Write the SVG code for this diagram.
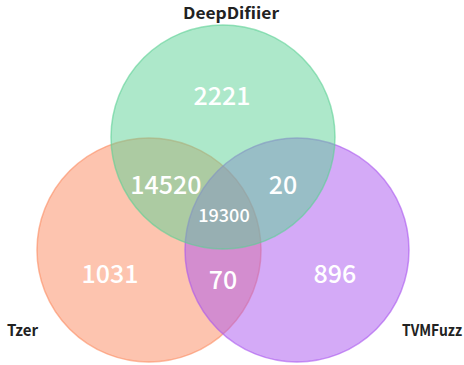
<svg xmlns="http://www.w3.org/2000/svg" width="464" height="365" viewBox="0 0 464 365">
<style>
.c{stroke-width:1.5}
.lbl{font-family:"Noto Sans CJK SC","Noto Sans",sans-serif;font-size:16px;font-weight:600;fill:#222}
.num{font-family:"Noto Sans CJK SC","Noto Sans",sans-serif;font-size:25px;font-weight:500;fill:#fff;text-anchor:middle}
.sm{font-size:18px}
</style>
<rect width="464" height="365" fill="#fff"/>
<g id="tzer">
<circle class="c" cx="149" cy="250" r="112" fill="#fb8a5f" fill-opacity="0.5" stroke="#fb8a5f" stroke-opacity="0.6"/>
</g>
<g id="tvmfuzz">
<circle class="c" cx="297" cy="250" r="112" fill="#a955ef" fill-opacity="0.5" stroke="#a955ef" stroke-opacity="0.6"/>
</g>
<g id="deepdifiier">
<circle class="c" cx="223" cy="137" r="112" fill="#5bd195" fill-opacity="0.5" stroke="#5bd195" stroke-opacity="0.6"/>
</g>
<g id="labels">
<text class="lbl" x="183" y="19" textLength="96" lengthAdjust="spacingAndGlyphs">DeepDifiier</text>
<text class="lbl" x="7" y="336" textLength="31" lengthAdjust="spacingAndGlyphs">Tzer</text>
<text class="lbl" x="402" y="336" textLength="60" lengthAdjust="spacingAndGlyphs">TVMFuzz</text>
</g>
<g id="counts">
<text class="num" x="222" y="105">2221</text>
<text class="num" x="166" y="194">14520</text>
<text class="num" x="283" y="194">20</text>
<text class="num sm" x="224" y="222">19300</text>
<text class="num" x="110" y="283">1031</text>
<text class="num" x="223" y="289">70</text>
<text class="num" x="335" y="283">896</text>
</g>
</svg>
